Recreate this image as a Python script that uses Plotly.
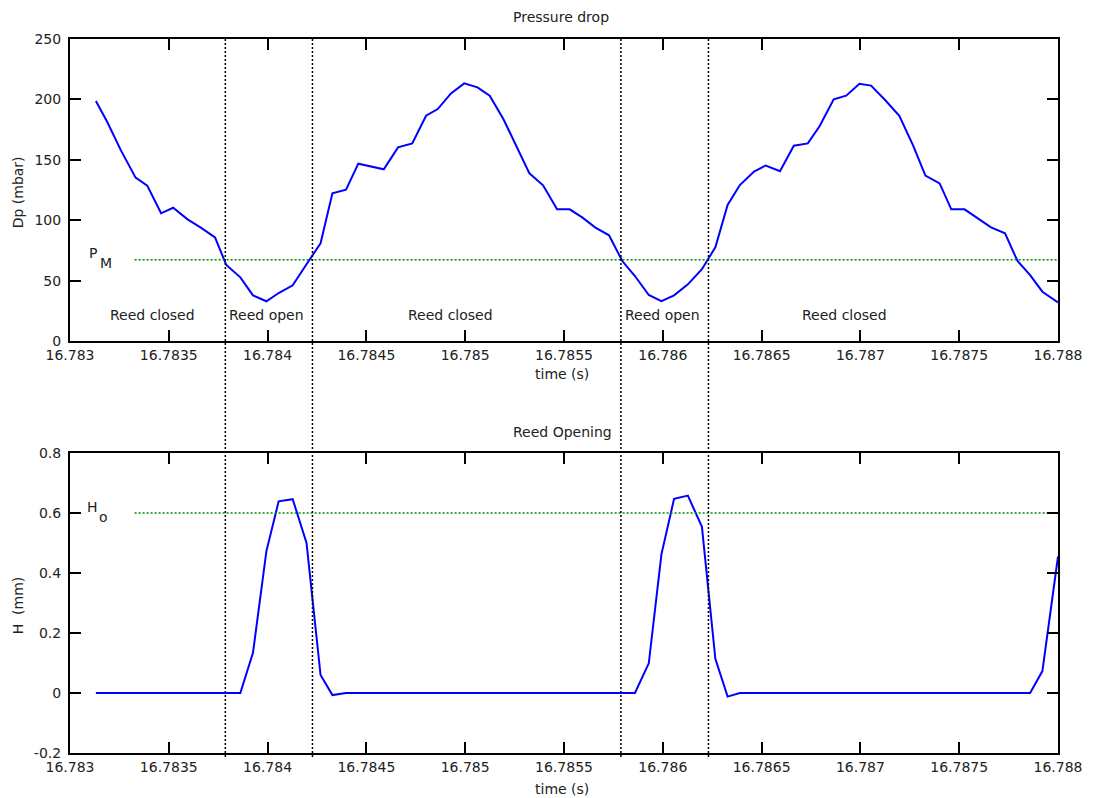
import plotly.graph_objects as go

# ---- data ----
time_s = [16.783131, 16.783188, 16.783257, 16.783332, 16.783391, 16.783461, 16.783522, 16.783595,
          16.783662, 16.783734, 16.783791, 16.783862, 16.783926, 16.783994, 16.784056, 16.784127,
          16.784197, 16.784268, 16.784328, 16.784397, 16.784459, 16.784534, 16.784588, 16.784660,
          16.784732, 16.784802, 16.784861, 16.784928, 16.784995, 16.785062, 16.785124, 16.785193,
          16.785255, 16.785325, 16.785394, 16.785465, 16.785529, 16.785594, 16.785657, 16.785728,
          16.785795, 16.785859, 16.785929, 16.785993, 16.786057, 16.786127, 16.786198, 16.786266,
          16.786328, 16.786390, 16.786462, 16.786521, 16.786593, 16.786663, 16.786734, 16.786794,
          16.786865, 16.786928, 16.786995, 16.787054, 16.787125, 16.787197, 16.787267, 16.787329,
          16.787401, 16.787460, 16.787527, 16.787594, 16.787661, 16.787732, 16.787795, 16.787859,
          16.787921, 16.788000]

pressure_drop_mbar = [198.7, 181.5, 158.0, 135.2, 128.6, 105.7, 110.3, 100.7,
                      93.8, 85.8, 62.9, 52.7, 37.8, 32.9, 39.7, 46.1,
                      63.5, 80.9, 122.3, 125.3, 146.8, 143.8, 142.1, 160.3,
                      163.6, 186.5, 192.0, 205.0, 213.3, 210.0, 203.1, 183.8,
                      162.3, 138.8, 128.9, 109.0, 109.0, 102.1, 94.1, 87.5,
                      66.2, 53.8, 38.1, 32.9, 37.8, 46.9, 59.4, 77.6,
                      112.6, 129.1, 140.2, 145.3, 140.5, 161.7, 163.6, 178.0,
                      200.0, 203.1, 213.0, 211.4, 199.5, 186.5, 161.7, 136.9,
                      130.5, 109.0, 109.0, 101.6, 94.1, 89.2, 66.2, 54.6,
                      40.8, 32.0]

reed_opening_mm = [0, 0, 0, 0, 0, 0, 0, 0,
                   0, 0, 0, 0, 0.134, 0.473, 0.639, 0.646,
                   0.500, 0.060, -0.007, 0, 0, 0, 0, 0,
                   0, 0, 0, 0, 0, 0, 0, 0,
                   0, 0, 0, 0, 0, 0, 0, 0,
                   0, 0, 0.099, 0.462, 0.647, 0.658, 0.554, 0.114,
                   -0.012, 0, 0, 0, 0, 0, 0, 0,
                   0, 0, 0, 0, 0, 0, 0, 0,
                   0, 0, 0, 0, 0, 0, 0, 0,
                   0.073, 0.455]

reed_boundaries = [16.783786, 16.784227, 16.785788, 16.786231]
pm_level = 67.3
ho_level = 0.6
ref_line_start = 16.783327

region_labels = ["Reed closed", "Reed open", "Reed closed", "Reed open", "Reed closed"]
region_label_x = [16.783418, 16.783996, 16.784928, 16.785999, 16.786920]
region_label_y = 21.5

x_ticks = [16.783, 16.7835, 16.784, 16.7845, 16.785, 16.7855, 16.786, 16.7865, 16.787, 16.7875, 16.788]
x_tick_text = ["16.783", "16.7835", "16.784", "16.7845", "16.785", "16.7855", "16.786",
               "16.7865", "16.787", "16.7875", "16.788"]
y1_ticks = [0, 50, 100, 150, 200, 250]
y1_tick_text = ["0", "50", "100", "150", "200", "250"]
y2_ticks = [-0.2, 0, 0.2, 0.4, 0.6, 0.8]
y2_tick_text = ["-0.2", "0", "0.2", "0.4", "0.6", "0.8"]

FONT = "DejaVu Sans"
FS = 14
TXT = "#222222"

W, H = 1095, 798
PL, PR, PT, PB = 70, 31, 39, 45   # plot area: x 70..1064, y 39..753
PH = H - PT - PB  # 714


def py(page_y):
    """page pixel y -> paper coordinate"""
    return (H - PB - page_y) / PH


def px(page_x):
    return (page_x - PL) / (W - PL - PR)


fig = go.Figure()

fig.add_trace(go.Scatter(x=time_s, y=pressure_drop_mbar, mode="lines",
                         line=dict(color="#0000ff", width=2), xaxis="x", yaxis="y",
                         showlegend=False, hoverinfo="skip"))
fig.add_trace(go.Scatter(x=time_s, y=reed_opening_mm, mode="lines",
                         line=dict(color="#0000ff", width=2), xaxis="x2", yaxis="y2",
                         showlegend=False, hoverinfo="skip"))

# green reference lines
fig.add_trace(go.Scatter(x=[ref_line_start, x_ticks[-1]], y=[pm_level, pm_level], mode="lines",
                         line=dict(color="#008800", width=1.5, dash="2px,2px"),
                         xaxis="x", yaxis="y", showlegend=False, hoverinfo="skip"))
fig.add_trace(go.Scatter(x=[ref_line_start, x_ticks[-1]], y=[ho_level, ho_level], mode="lines",
                         line=dict(color="#008800", width=1.5, dash="2px,2px"),
                         xaxis="x2", yaxis="y2", showlegend=False, hoverinfo="skip"))

for xb in reed_boundaries:
    fig.add_shape(type="line", xref="x", yref="paper", x0=xb, x1=xb, y0=py(757), y1=1.0,
                  line=dict(color="black", width=1.5, dash="2px,2px"), layer="above")

axis_common = dict(showline=True, linecolor="black", linewidth=2, mirror="ticks",
                   ticks="inside", ticklen=11, tickwidth=2, tickcolor="black",
                   showgrid=False, zeroline=False,
                   tickfont=dict(family=FONT, size=FS, color=TXT))

fig.update_layout(
    width=W, height=H, autosize=False,
    margin=dict(l=PL, r=PR, t=PT, b=PB),
    paper_bgcolor="white", plot_bgcolor="white",
    xaxis=dict(domain=[0, 1], anchor="y", range=[16.783, 16.788],
               tickvals=x_ticks, ticktext=x_tick_text, **axis_common),
    yaxis=dict(domain=[py(341), 1.0], anchor="x", range=[0, 250],
               tickvals=y1_ticks, ticktext=y1_tick_text, ticklabelstandoff=4, **axis_common),
    xaxis2=dict(domain=[0, 1], anchor="y2", range=[16.783, 16.788],
                tickvals=x_ticks, ticktext=x_tick_text, **axis_common),
    yaxis2=dict(domain=[0.0, py(453)], anchor="x2", range=[-0.2, 0.8],
                tickvals=y2_ticks, ticktext=y2_tick_text, ticklabelstandoff=4, **axis_common),
)

ann_font = dict(family=FONT, size=FS, color=TXT)
annotations = []
for txt, xv in zip(region_labels, region_label_x):
    annotations.append(dict(text=txt, x=xv, y=region_label_y, xref="x", yref="y",
                            showarrow=False, font=ann_font, xanchor="center", yanchor="middle"))

# P_M and H_o labels
annotations += [
    dict(text="P", x=16.783116, y=72.8, xref="x", yref="y", showarrow=False, font=ann_font),
    dict(text="M", x=16.783181, y=64.6, xref="x", yref="y", showarrow=False, font=ann_font),
    dict(text="H", x=16.783116, y=0.621, xref="x2", yref="y2", showarrow=False, font=ann_font),
    dict(text="o", x=16.783171, y=0.586, xref="x2", yref="y2", showarrow=False, font=ann_font),
]

# titles
annotations += [
    dict(text="Pressure drop", x=px(564), y=py(17), xref="paper", yref="paper",
         showarrow=False, font=ann_font, xanchor="center", yanchor="middle"),
    dict(text="Reed Opening", x=px(565), y=py(432), xref="paper", yref="paper",
         showarrow=False, font=ann_font, xanchor="center", yanchor="middle"),
    dict(text="time (s)", x=px(565), y=py(374), xref="paper", yref="paper",
         showarrow=False, font=ann_font, xanchor="center", yanchor="middle"),
    dict(text="time (s)", x=px(565), y=py(789), xref="paper", yref="paper",
         showarrow=False, font=ann_font, xanchor="center", yanchor="middle"),
    dict(text="Dp (mbar)", x=px(18), y=py(192), xref="paper", yref="paper",
         showarrow=False, font=ann_font, textangle=-90, xanchor="center", yanchor="middle"),
    dict(text="H\u00a0\u00a0(mm)", x=px(18), y=py(605), xref="paper", yref="paper",
         showarrow=False, font=ann_font, textangle=-90, xanchor="center", yanchor="middle"),
]
fig.update_layout(annotations=annotations)

# remove the default 8px page margin so the figure sits at (0, 0) of the window
fig.write_html("out.html", config={"responsive": False, "displayModeBar": False},
               post_script="document.body.style.margin='0';document.body.style.overflow='hidden';")
